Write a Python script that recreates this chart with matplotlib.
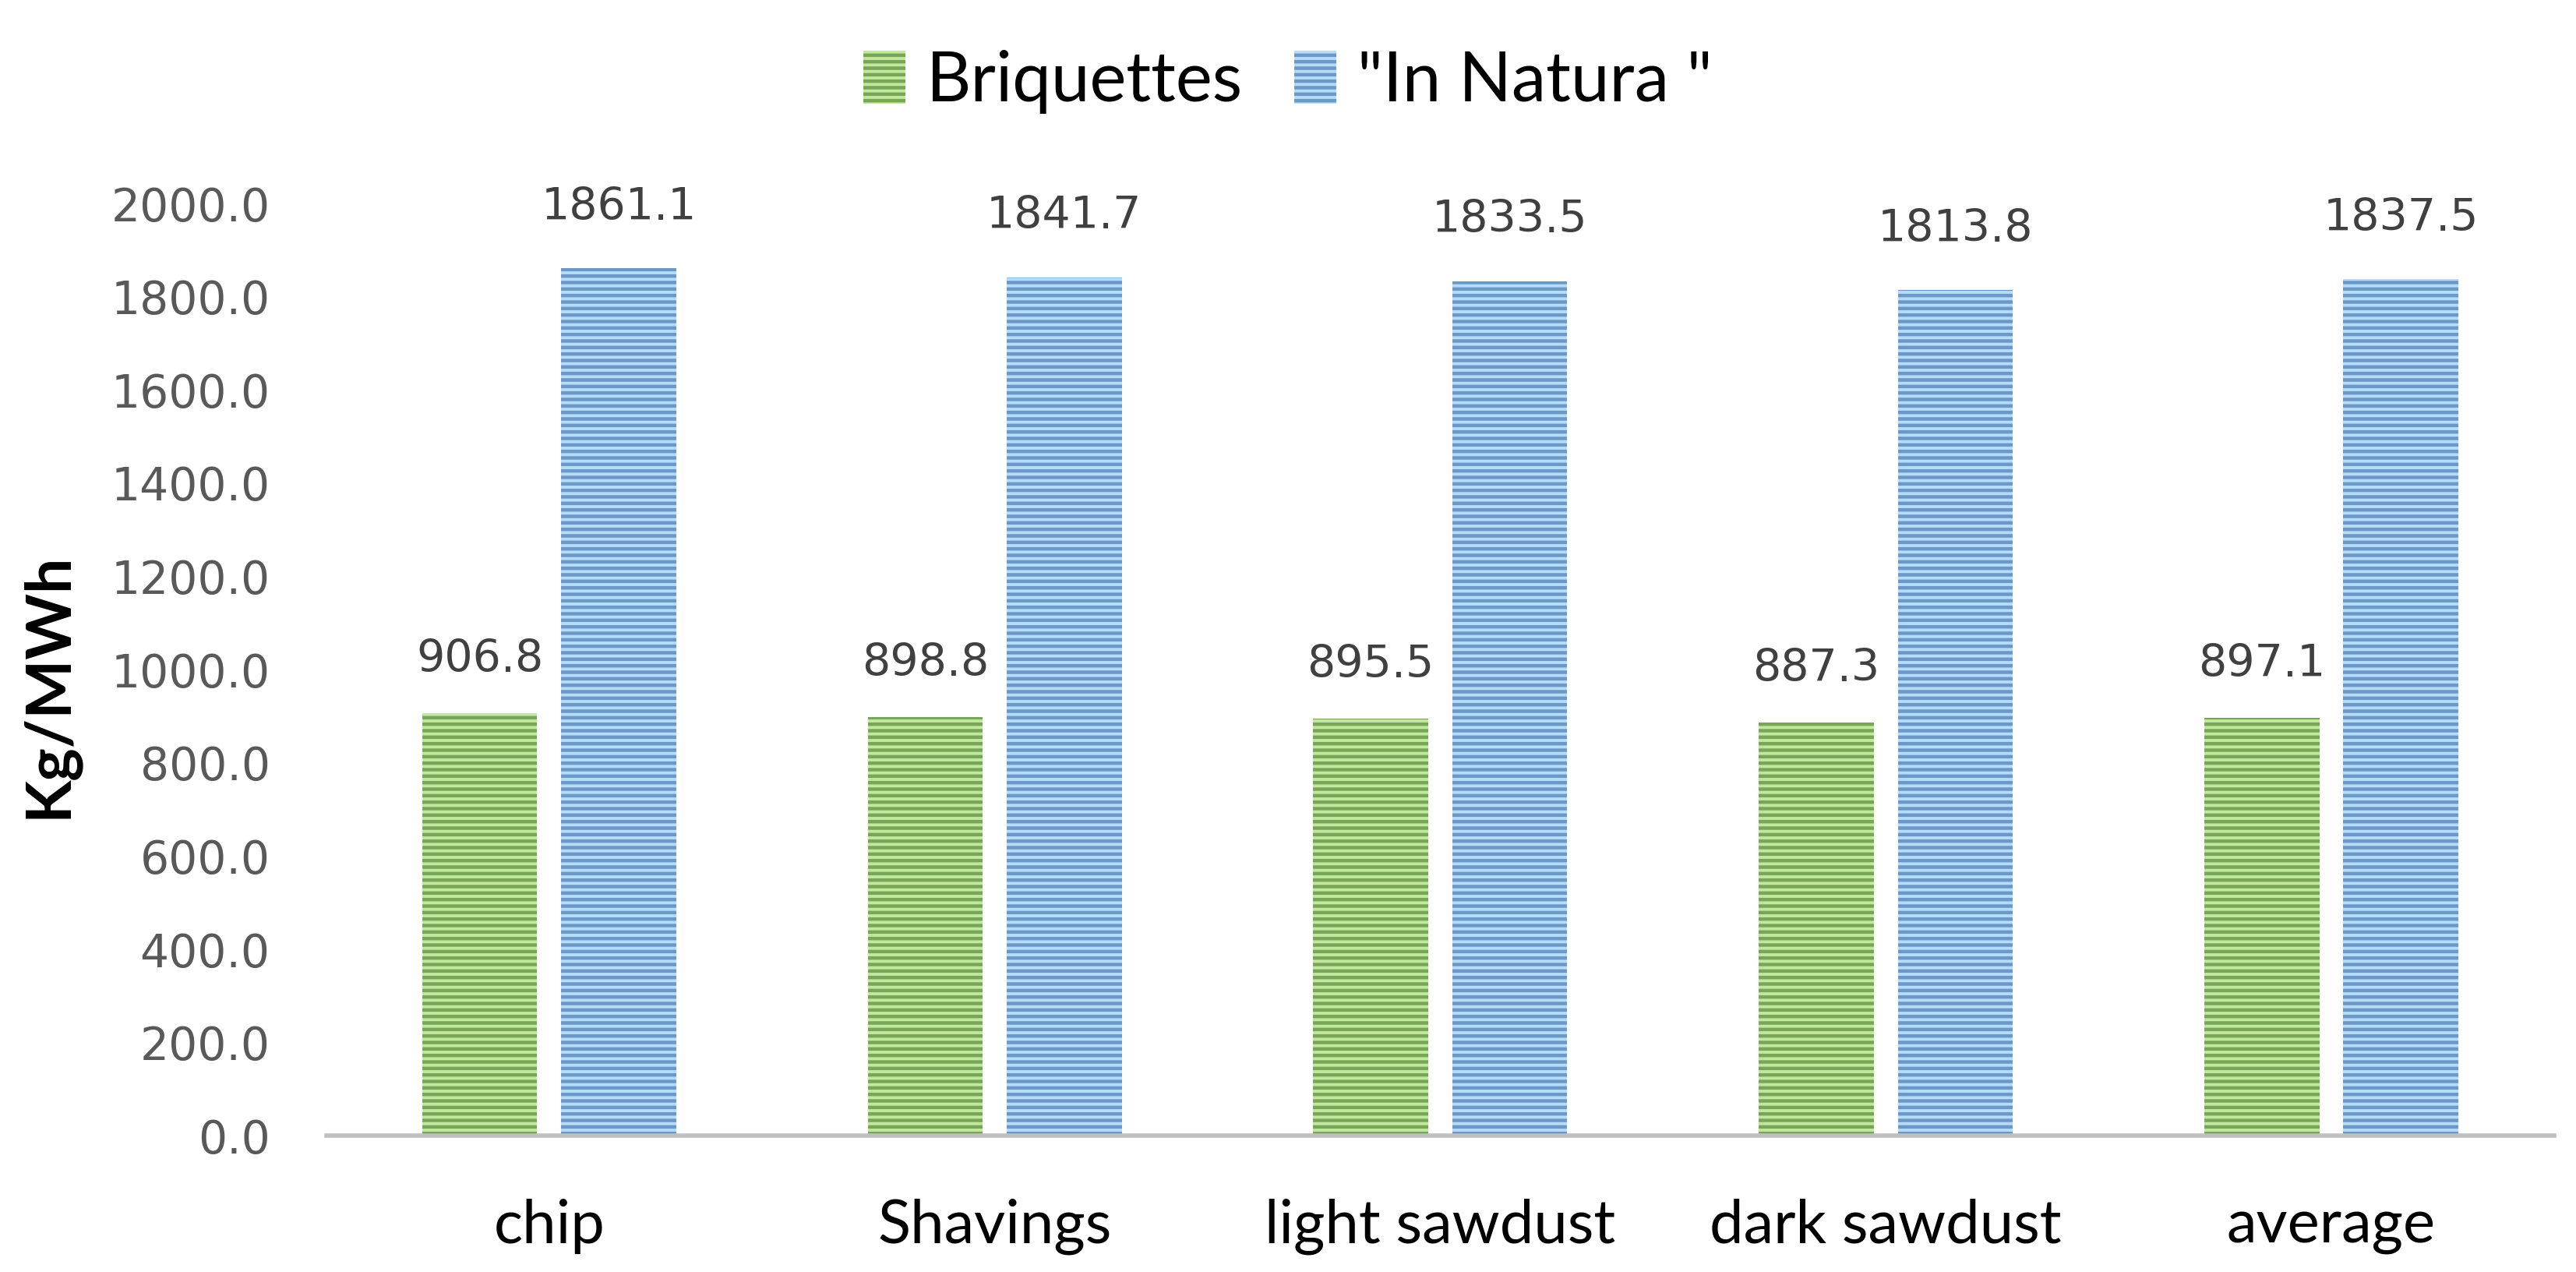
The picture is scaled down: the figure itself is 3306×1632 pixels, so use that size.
import numpy as np
import matplotlib
matplotlib.use('Agg')
import matplotlib.pyplot as plt

categories = ['chip', 'Shavings', 'light sawdust', 'dark sawdust', 'average']
briquettes = [906.8, 898.8, 895.5, 887.3, 897.1]
in_natura = [1861.1, 1841.7, 1833.5, 1813.8, 1837.5]
yticks = np.arange(0, 2001, 200)

txt_font = ['Lato', 'DejaVu Sans']
plt.rcParams['hatch.linewidth'] = 3.2

fig = plt.figure(figsize=(33.06, 16.32), dpi=100)
ax = fig.add_axes([0.1267, 0.107, 0.8648, 0.733])

x = np.arange(len(categories))
w = 0.258
off = 0.156
b1 = ax.bar(x - off, briquettes, w, color='#c2e89e', edgecolor='#76a656',
            hatch='--', linewidth=0, label='Briquettes')
b2 = ax.bar(x + off, in_natura, w, color='#b5dcfa', edgecolor='#6c98c8',
            hatch='--', linewidth=0, label='"In Natura "')

for bars, vals, dy in [(b1, briquettes, 38), (b2, in_natura, 45)]:
    for r, v in zip(bars, vals):
        ax.annotate(f'{v:.1f}', (r.get_x() + r.get_width() / 2, v),
                    xytext=(0, dy), textcoords='offset points',
                    ha='center', va='baseline', fontsize=41, color='#404040')

ax.set_xlim(-0.5, len(categories) - 0.5)
ax.set_ylim(0, 2000)
ax.set_yticks(yticks)
ax.set_yticklabels([f'{t:.1f}' for t in yticks], fontsize=42, color='#595959')
ax.set_xticks(x)
ax.set_xticklabels(categories, fontsize=56, family=txt_font)
ax.tick_params(axis='x', length=0, pad=58)
ax.tick_params(axis='y', length=0, pad=52)
for s in ['top', 'right', 'left']:
    ax.spines[s].set_visible(False)
ax.spines['bottom'].set_color('#bfbfbf')
ax.spines['bottom'].set_linewidth(4)

fig.text(0.019, 0.461, 'Kg/MWh', rotation=90, ha='center', va='center',
         fontsize=58, fontweight='bold', family=txt_font)

fig.legend(handles=[b1, b2], loc='upper center', bbox_to_anchor=(0.5, 1.01),
           ncol=2, frameon=False, prop={'family': txt_font, 'size': 64},
           handlelength=0.6, handleheight=0.8, handletextpad=0.31,
           columnspacing=0.74)

fig.savefig('out.png', dpi=100)
